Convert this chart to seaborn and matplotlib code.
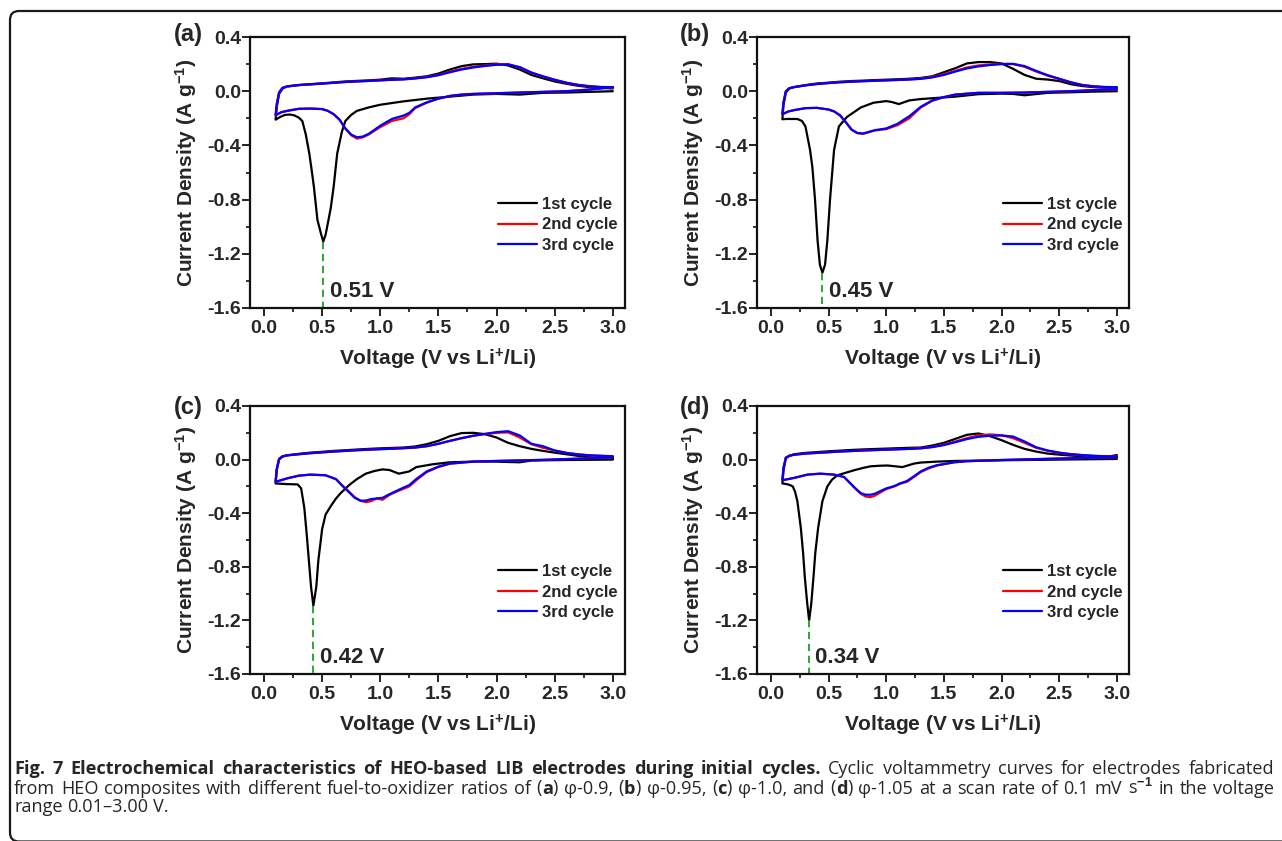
import matplotlib
matplotlib.use("Agg")
import matplotlib.pyplot as plt
import seaborn as sns
import pandas as pd
import numpy as np
from matplotlib.patches import FancyBboxPatch
from matplotlib.transforms import IdentityTransform
from matplotlib.ticker import MultipleLocator, FormatStrFormatter

# ---------------- data ----------------
CYCLE_LABELS = ["1st cycle", "2nd cycle", "3rd cycle"]
PANEL_LETTERS = ["(a)", "(b)", "(c)", "(d)"]
PEAK_LABELS = ["0.51 V", "0.45 V", "0.42 V", "0.34 V"]

# anodic sweep voltage grid (shared)
anod_v = [0.10, 0.11, 0.13, 0.16, 0.20, 0.30, 0.40, 0.50, 0.60, 0.70, 0.80, 0.90, 1.00,
          1.10, 1.20, 1.30, 1.40, 1.50, 1.60, 1.70, 1.80, 1.90, 2.00, 2.10, 2.20, 2.30,
          2.40, 2.50, 2.60, 2.70, 2.80, 2.90, 3.00]

# ---- panel (a) ----
a_cath1_v = [3.00, 2.80, 2.60, 2.40, 2.20, 2.00, 1.80, 1.60, 1.40, 1.20, 1.00, 0.90, 0.80, 0.75,
             0.70, 0.67, 0.63, 0.60, 0.575, 0.555, 0.53, 0.51, 0.49, 0.46, 0.43, 0.41, 0.39,
             0.36, 0.33, 0.30, 0.26, 0.22, 0.18, 0.14, 0.12, 0.10]
a_cath1_i = [0.000, -0.005, -0.010, -0.012, -0.025, -0.020, -0.025, -0.040, -0.055, -0.075,
             -0.100, -0.120, -0.145, -0.175, -0.220, -0.300, -0.460, -0.700, -0.860, -0.950,
             -1.060, -1.110, -1.050, -0.950, -0.710, -0.580, -0.460, -0.320, -0.220, -0.195,
             -0.178, -0.172, -0.175, -0.190, -0.200, -0.210]
a_cath23_v = [3.00, 2.80, 2.60, 2.40, 2.20, 2.00, 1.80, 1.70, 1.60, 1.50, 1.40, 1.30, 1.25, 1.20,
              1.10, 1.00, 0.90, 0.85, 0.80, 0.75, 0.70, 0.65, 0.60, 0.55, 0.50, 0.40, 0.30,
              0.20, 0.15, 0.10]
a_cath2_i = [0.030, 0.012, 0.000, -0.005, -0.010, -0.015, -0.020, -0.025, -0.035, -0.055,
             -0.085, -0.125, -0.170, -0.200, -0.220, -0.265, -0.320, -0.340, -0.350, -0.325,
             -0.275, -0.210, -0.170, -0.145, -0.132, -0.128, -0.130, -0.145, -0.155, -0.180]
a_cath3_i = [0.030, 0.012, 0.000, -0.005, -0.010, -0.015, -0.020, -0.025, -0.035, -0.055,
             -0.082, -0.120, -0.160, -0.180, -0.205, -0.255, -0.315, -0.335, -0.340, -0.320,
             -0.275, -0.210, -0.170, -0.145, -0.132, -0.128, -0.130, -0.145, -0.155, -0.175]
a_anod1_i = [-0.210, -0.120, -0.020, 0.020, 0.035, 0.045, 0.052, 0.058, 0.065, 0.072, 0.076,
             0.080, 0.085, 0.095, 0.092, 0.100, 0.110, 0.130, 0.160, 0.185, 0.198, 0.200,
             0.203, 0.190, 0.160, 0.120, 0.095, 0.072, 0.055, 0.040, 0.030, 0.025, 0.020]
a_anod2_i = [-0.180, -0.100, -0.010, 0.025, 0.035, 0.045, 0.050, 0.056, 0.062, 0.068, 0.072,
             0.076, 0.080, 0.085, 0.088, 0.095, 0.105, 0.120, 0.145, 0.165, 0.180, 0.190,
             0.198, 0.200, 0.175, 0.135, 0.108, 0.083, 0.062, 0.046, 0.036, 0.030, 0.028]
a_anod3_i = [-0.175, -0.095, -0.008, 0.025, 0.036, 0.046, 0.051, 0.056, 0.062, 0.068, 0.072,
             0.076, 0.080, 0.084, 0.087, 0.094, 0.103, 0.118, 0.140, 0.160, 0.175, 0.186,
             0.195, 0.197, 0.178, 0.138, 0.110, 0.085, 0.063, 0.047, 0.037, 0.031, 0.030]

# ---- panel (b) ----
b_cath1_v = [3.00, 2.80, 2.60, 2.40, 2.20, 2.10, 2.00, 1.80, 1.60, 1.40, 1.30, 1.20, 1.11, 1.05,
             1.00, 0.89, 0.78, 0.66, 0.59, 0.548, 0.513, 0.49, 0.47, 0.447, 0.425, 0.405,
             0.383, 0.36, 0.34, 0.30, 0.27, 0.23, 0.18, 0.13, 0.10]
b_cath1_i = [0.000, -0.003, -0.008, -0.012, -0.030, -0.020, -0.018, -0.022, -0.040, -0.052,
             -0.058, -0.068, -0.095, -0.080, -0.073, -0.085, -0.120, -0.190, -0.260, -0.434,
             -0.800, -1.100, -1.280, -1.340, -1.280, -1.100, -0.800, -0.560, -0.434, -0.260,
             -0.220, -0.205, -0.205, -0.205, -0.207]
b_cath23_v = [3.00, 2.80, 2.60, 2.40, 2.20, 2.00, 1.80, 1.60, 1.50, 1.40, 1.30, 1.20, 1.15, 1.10,
              1.00, 0.90, 0.80, 0.75, 0.70, 0.65, 0.60, 0.55, 0.50, 0.40, 0.30, 0.20, 0.15, 0.10]
b_cath2_i = [0.015, 0.008, 0.000, -0.005, -0.010, -0.012, -0.012, -0.025, -0.045, -0.070,
             -0.120, -0.200, -0.225, -0.250, -0.280, -0.290, -0.315, -0.310, -0.285, -0.230,
             -0.180, -0.150, -0.135, -0.123, -0.125, -0.140, -0.150, -0.170]
b_cath3_i = [0.015, 0.008, 0.000, -0.005, -0.010, -0.012, -0.012, -0.025, -0.043, -0.068,
             -0.115, -0.185, -0.212, -0.240, -0.275, -0.288, -0.312, -0.308, -0.283, -0.228,
             -0.178, -0.150, -0.135, -0.123, -0.125, -0.140, -0.150, -0.170]
b_anod1_i = [-0.207, -0.100, -0.010, 0.020, 0.030, 0.045, 0.057, 0.063, 0.070, 0.075, 0.078,
             0.082, 0.085, 0.088, 0.092, 0.098, 0.110, 0.140, 0.170, 0.205, 0.215, 0.215,
             0.205, 0.165, 0.120, 0.092, 0.086, 0.075, 0.052, 0.038, 0.030, 0.025, 0.020]
b_anod2_i = [-0.170, -0.080, 0.000, 0.022, 0.030, 0.043, 0.053, 0.060, 0.066, 0.070, 0.074,
             0.077, 0.080, 0.083, 0.087, 0.093, 0.105, 0.125, 0.150, 0.175, 0.190, 0.198,
             0.202, 0.200, 0.180, 0.145, 0.115, 0.090, 0.065, 0.045, 0.035, 0.030, 0.028]
b_anod3_i = [-0.170, -0.080, 0.000, 0.022, 0.030, 0.043, 0.053, 0.060, 0.066, 0.070, 0.074,
             0.077, 0.080, 0.083, 0.086, 0.091, 0.102, 0.120, 0.145, 0.168, 0.183, 0.193,
             0.200, 0.202, 0.185, 0.150, 0.118, 0.092, 0.066, 0.046, 0.036, 0.031, 0.030]

# ---- panel (c) ----
c_cath1_v = [3.00, 2.60, 2.30, 2.20, 2.10, 2.00, 1.80, 1.60, 1.45, 1.31, 1.25, 1.16, 1.08, 1.02,
             0.95, 0.876, 0.80, 0.733, 0.66, 0.62, 0.58, 0.53, 0.50, 0.485, 0.468, 0.45, 0.425,
             0.405, 0.386, 0.37, 0.347, 0.32, 0.29, 0.20, 0.10]
c_cath1_i = [0.000, -0.003, -0.007, -0.020, -0.018, -0.015, -0.015, -0.020, -0.035, -0.056,
             -0.088, -0.105, -0.078, -0.073, -0.085, -0.105, -0.145, -0.190, -0.250, -0.290,
             -0.340, -0.410, -0.520, -0.630, -0.750, -0.950, -1.090, -0.950, -0.750, -0.580,
             -0.360, -0.215, -0.185, -0.183, -0.178]
c_cath23_v = [3.00, 2.80, 2.60, 2.40, 2.20, 2.00, 1.80, 1.60, 1.50, 1.40, 1.31, 1.25, 1.16, 1.08,
              1.02, 0.97, 0.92, 0.88, 0.83, 0.78, 0.733, 0.67, 0.62, 0.53, 0.40, 0.30, 0.20, 0.10]
c_cath2_i = [0.017, 0.010, 0.004, -0.002, -0.006, -0.010, -0.015, -0.030, -0.056, -0.093,
             -0.154, -0.200, -0.232, -0.263, -0.300, -0.290, -0.310, -0.318, -0.307, -0.280,
             -0.240, -0.190, -0.146, -0.117, -0.112, -0.120, -0.140, -0.166]
c_cath3_i = [0.017, 0.010, 0.004, -0.002, -0.006, -0.010, -0.015, -0.030, -0.052, -0.088,
             -0.145, -0.190, -0.225, -0.258, -0.285, -0.290, -0.295, -0.305, -0.307, -0.285,
             -0.245, -0.192, -0.146, -0.117, -0.112, -0.120, -0.140, -0.166]
c_anod1_i = [-0.178, -0.080, 0.000, 0.022, 0.032, 0.043, 0.052, 0.058, 0.065, 0.070, 0.075,
             0.080, 0.084, 0.087, 0.090, 0.098, 0.115, 0.140, 0.175, 0.198, 0.200, 0.190,
             0.165, 0.125, 0.100, 0.080, 0.065, 0.052, 0.040, 0.028, 0.018, 0.012, 0.008]
c_anod2_i = [-0.166, -0.070, 0.005, 0.025, 0.032, 0.040, 0.048, 0.054, 0.060, 0.065, 0.070,
             0.074, 0.078, 0.081, 0.085, 0.090, 0.100, 0.118, 0.140, 0.160, 0.178, 0.190,
             0.200, 0.203, 0.165, 0.115, 0.088, 0.068, 0.050, 0.040, 0.032, 0.028, 0.025]
c_anod3_i = [-0.166, -0.070, 0.005, 0.025, 0.032, 0.040, 0.048, 0.054, 0.060, 0.065, 0.070,
             0.074, 0.078, 0.081, 0.085, 0.090, 0.100, 0.118, 0.140, 0.160, 0.178, 0.192,
             0.205, 0.212, 0.180, 0.118, 0.100, 0.068, 0.050, 0.038, 0.032, 0.028, 0.025]

# ---- panel (d) ----
d_cath1_v = [3.00, 2.50, 2.00, 1.87, 1.60, 1.44, 1.30, 1.24, 1.14, 1.08, 1.01, 0.94, 0.865, 0.80,
             0.72, 0.65, 0.576, 0.53, 0.49, 0.447, 0.41, 0.385, 0.37, 0.35, 0.332, 0.315,
             0.294, 0.28, 0.26, 0.23, 0.21, 0.19, 0.16, 0.13, 0.10]
d_cath1_i = [0.005, 0.000, -0.005, -0.007, -0.010, -0.015, -0.022, -0.030, -0.056, -0.050,
             -0.044, -0.046, -0.050, -0.062, -0.080, -0.098, -0.117, -0.150, -0.200, -0.310,
             -0.510, -0.700, -0.873, -1.080, -1.200, -1.070, -0.873, -0.700, -0.510, -0.310,
             -0.240, -0.200, -0.188, -0.182, -0.178]
d_cath23_v = [3.00, 2.50, 2.00, 1.87, 1.70, 1.59, 1.44, 1.37, 1.30, 1.24, 1.18, 1.12, 1.07, 1.00,
              0.95, 0.90, 0.865, 0.82, 0.78, 0.73, 0.69, 0.635, 0.548, 0.43, 0.317, 0.20, 0.10]
d_cath2_i = [0.017, 0.008, -0.003, -0.007, -0.012, -0.020, -0.044, -0.065, -0.093, -0.130,
             -0.166, -0.180, -0.200, -0.220, -0.245, -0.270, -0.280, -0.275, -0.255, -0.215,
             -0.178, -0.130, -0.112, -0.105, -0.112, -0.137, -0.154]
d_cath3_i = [0.017, 0.008, -0.003, -0.007, -0.012, -0.020, -0.042, -0.060, -0.088, -0.125,
             -0.160, -0.178, -0.198, -0.215, -0.235, -0.255, -0.262, -0.262, -0.250, -0.212,
             -0.178, -0.130, -0.112, -0.105, -0.112, -0.137, -0.154]
d_anod1_i = [-0.178, -0.080, 0.010, 0.028, 0.040, 0.050, 0.056, 0.062, 0.067, 0.072, 0.076,
             0.079, 0.082, 0.085, 0.088, 0.090, 0.105, 0.125, 0.155, 0.185, 0.195, 0.175,
             0.145, 0.110, 0.080, 0.060, 0.045, 0.037, 0.030, 0.025, 0.020, 0.018, 0.034]
d_anod2_i = [-0.154, -0.060, 0.015, 0.028, 0.036, 0.045, 0.050, 0.055, 0.060, 0.064, 0.068,
             0.071, 0.074, 0.077, 0.080, 0.085, 0.095, 0.112, 0.135, 0.160, 0.180, 0.188,
             0.182, 0.160, 0.125, 0.088, 0.066, 0.050, 0.040, 0.033, 0.028, 0.025, 0.022]
d_anod3_i = [-0.154, -0.060, 0.015, 0.028, 0.036, 0.045, 0.050, 0.055, 0.060, 0.064, 0.068,
             0.071, 0.074, 0.077, 0.080, 0.084, 0.093, 0.108, 0.130, 0.153, 0.170, 0.178,
             0.180, 0.172, 0.135, 0.092, 0.068, 0.052, 0.041, 0.034, 0.028, 0.025, 0.022]

CAPTION_L1 = [("Fig. 7 Electrochemical characteristics of HEO-based LIB electrodes during initial cycles.", True),
              (" Cyclic voltammetry curves for electrodes fabricated", False)]
CAPTION_L2 = [("from HEO composites with different fuel-to-oxidizer ratios of (", False), ("a", True),
              (") φ-0.9, (", False), ("b", True), (") φ-0.95, (", False), ("c", True),
              (") φ-1.0, and (", False), ("d", True),
              (r") φ-1.05 at a scan rate of 0.1 mV s$^{\mathrm{-1}}$ in the voltage", False)]
CAPTION_L3 = [("range 0.01–3.00 V.", False)]

panels = [
    (a_cath1_v, a_cath1_i, a_cath23_v, a_cath2_i, a_cath3_i, a_anod1_i, a_anod2_i, a_anod3_i),
    (b_cath1_v, b_cath1_i, b_cath23_v, b_cath2_i, b_cath3_i, b_anod1_i, b_anod2_i, b_anod3_i),
    (c_cath1_v, c_cath1_i, c_cath23_v, c_cath2_i, c_cath3_i, c_anod1_i, c_anod2_i, c_anod3_i),
    (d_cath1_v, d_cath1_i, d_cath23_v, d_cath2_i, d_cath3_i, d_anod1_i, d_anod2_i, d_anod3_i),
]

# ---------------- style ----------------
sns.set_theme(style="ticks")
plt.rcParams["font.family"] = ["Liberation Sans", "DejaVu Sans"]
plt.rcParams["font.weight"] = "bold"
plt.rcParams["axes.labelweight"] = "bold"
plt.rcParams["axes.unicode_minus"] = False
plt.rcParams["mathtext.fontset"] = "custom"
plt.rcParams["mathtext.rm"] = "Liberation Sans"
plt.rcParams["mathtext.bf"] = "Liberation Sans:bold"
plt.rcParams["mathtext.default"] = "bf"

W, H = 1282, 841
fig = plt.figure(figsize=(W / 100, H / 100), dpi=100)
fig.patch.set_facecolor("white")


def box(l, r, t, b):
    return [l / W, 1 - b / H, (r - l) / W, (b - t) / H]


rects = [box(250, 625, 37, 308), box(757, 1129, 37, 308),
         box(250, 625, 406, 674), box(757, 1129, 406, 674)]
letter_pos = [(188, 35), (695, 35), (188, 408), (695, 408)]
colors = ["#000000", "#ff0000", "#0000ff"]

for k, (rect, pdata) in enumerate(zip(rects, panels)):
    c1v, c1i, c23v, c2i, c3i, an1, an2, an3 = pdata
    ax = fig.add_axes(rect)
    loops = [
        (list(c1v) + anod_v, list(c1i) + list(an1)),
        (list(c23v) + anod_v, list(c2i) + list(an2)),
        (list(c23v) + anod_v, list(c3i) + list(an3)),
    ]
    for (vv, ii), col, lab in zip(loops, colors, CYCLE_LABELS):
        df = pd.DataFrame({"V": vv, "I": ii})
        sns.lineplot(data=df, x="V", y="I", sort=False, estimator=None, color=col,
                     lw=1.6, ax=ax, label=lab)
    # peak marker from the 1st-cycle data
    ipk = int(np.argmin(c1i))
    vpk, ival = c1v[ipk], c1i[ipk]
    ax.plot([vpk, vpk], [ival, -1.6], color="#1f9e1f", lw=1.3, ls=(0, (4, 2.6)))
    ax.text(vpk + 0.055, -1.475, PEAK_LABELS[k], fontsize=16, fontweight="bold",
            va="center", ha="left")

    ax.set_xlim(-0.12, 3.105)
    ax.set_ylim(-1.6, 0.4)
    ax.xaxis.set_major_locator(MultipleLocator(0.5))
    ax.xaxis.set_minor_locator(MultipleLocator(0.25))
    ax.yaxis.set_major_locator(MultipleLocator(0.4))
    ax.yaxis.set_minor_locator(MultipleLocator(0.2))
    ax.xaxis.set_major_formatter(FormatStrFormatter("%.1f"))
    ax.yaxis.set_major_formatter(FormatStrFormatter("%.1f"))
    ax.tick_params(which="major", direction="out", length=5.5, width=1.3, labelsize=14,
                   top=False, right=False, color="#111")
    ax.tick_params(axis="y", which="major", pad=1)
    ax.tick_params(axis="x", which="major", pad=3)
    ax.tick_params(which="minor", direction="out", length=3, width=1.2,
                   top=False, right=False, color="#111")
    for sp in ax.spines.values():
        sp.set_linewidth(1.6)
        sp.set_color("#111")
        sp.set_visible(True)
    ax.set_xlabel(r"Voltage (V vs Li$^{+}$/Li)", fontsize=15, fontweight="bold", labelpad=7)
    ax.set_ylabel(r"Current Density (A g$^{-1}$)", fontsize=15, fontweight="bold")
    width_px = rect[2] * W
    ax.yaxis.set_label_coords(-51 / width_px, 0.5)
    ax.legend(loc="upper left", bbox_to_anchor=(0.662, 0.41), frameon=False,
              prop={"weight": "bold", "size": 12}, handlelength=2.3, handletextpad=0.35,
              labelspacing=0.33, borderpad=0, borderaxespad=0)
    lx, ly = letter_pos[k]
    fig.text(lx / W, 1 - ly / H, PANEL_LETTERS[k], fontsize=17, fontweight="bold",
             ha="center", va="center")

# ---------------- caption ----------------
CAP_FAMILY = ["Open Sans", "DejaVu Sans"]
renderer = fig.canvas.get_renderer()
CAP_X0, CAP_X1 = 14, 1274


def measure(s, bold, fs):
    t = fig.text(0, 0, s, fontsize=fs, fontweight="bold" if bold else "normal",
                 family=CAP_FAMILY)
    w = t.get_window_extent(renderer).width
    t.remove()
    return w


def split_words(pieces):
    words = [[]]
    for s, b in pieces:
        parts = s.split(" ")
        for j, p in enumerate(parts):
            if j > 0:
                words.append([])
            if p:
                words[-1].append((p, b))
    return [w for w in words if w]


def natural_width(pieces, fs):
    words = split_words(pieces)
    space = measure("a a", False, fs) - measure("aa", False, fs)
    return sum(measure(p, b, fs) for w in words for p, b in w) + space * (len(words) - 1)


# pick the caption size so that the two full lines fill the text width
fs0 = 10.0
nat = max(natural_width(CAPTION_L1, fs0), natural_width(CAPTION_L2, fs0))
CAP_FS = fs0 * (CAP_X1 - CAP_X0) / nat * 0.985


def caption_line(pieces, baseline_px, justify):
    words = split_words(pieces)
    widths = [sum(measure(p, b, CAP_FS) for p, b in w) for w in words]
    space = measure("a a", False, CAP_FS) - measure("aa", False, CAP_FS)
    gap = space
    if justify and len(words) > 1:
        gap = (CAP_X1 - CAP_X0 - sum(widths)) / (len(words) - 1)
    x = CAP_X0
    for w, wd in zip(words, widths):
        xx = x
        for p, b in w:
            fig.text(xx / W, 1 - baseline_px / H, p, fontsize=CAP_FS,
                     fontweight="bold" if b else "normal", family=CAP_FAMILY,
                     ha="left", va="baseline")
            xx += measure(p, b, CAP_FS)
        x += wd + gap


caption_line(CAPTION_L1, 774, True)
caption_line(CAPTION_L2, 793.5, True)
caption_line(CAPTION_L3, 812, False)

# outer rounded frame
frame = FancyBboxPatch((10, -0.5), 1400, 830.5, boxstyle="round,pad=0,rounding_size=9",
                       transform=IdentityTransform(), fill=False, lw=1.6, ec="#1a1a1a")
fig.patches.append(frame)

fig.savefig("out.png", dpi=100, facecolor="white")
